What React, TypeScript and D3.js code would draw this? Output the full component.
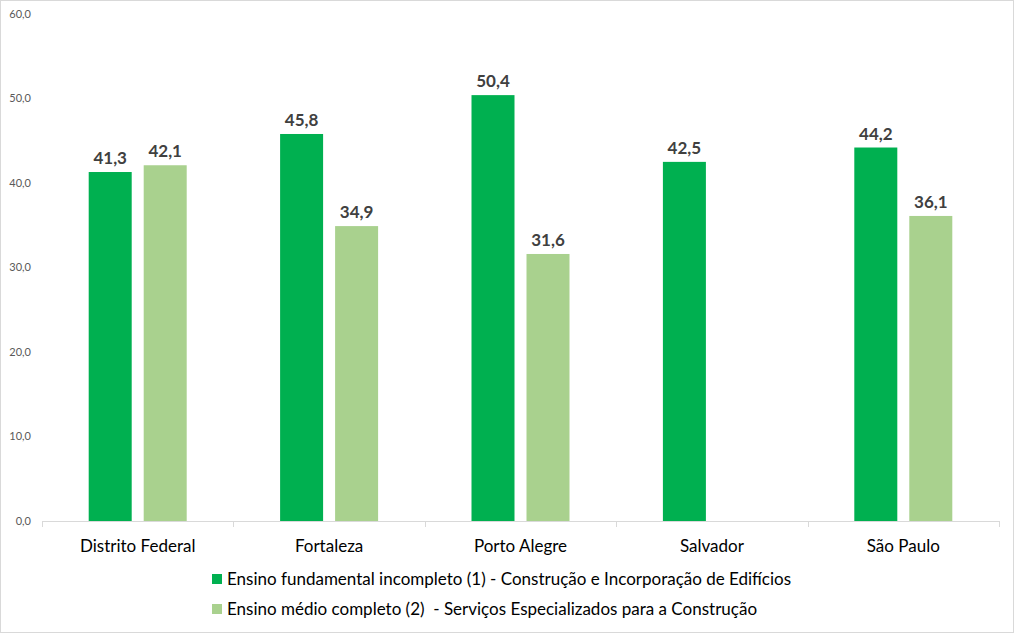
import React, { useEffect } from "react";
import * as d3 from "d3";

const categories = ["Distrito Federal", "Fortaleza", "Porto Alegre", "Salvador", "São Paulo"];
const seriesNames = [
  "Ensino fundamental incompleto (1) - Construção e Incorporação de Edifícios",
  "Ensino médio completo (2)  - Serviços Especializados para a Construção",
];
const fundamental: (number | null)[] = [41.3, 45.8, 50.4, 42.5, 44.2];
const medio: (number | null)[] = [42.1, 34.9, 31.6, null, 36.1];
const yTicks = [0, 10, 20, 30, 40, 50, 60];
const colors = ["#00B050", "#A9D18E"];

const W = 1014;
const H = 633;
const FONT = "Lato, 'Open Sans', sans-serif";

export default function App() {
  useEffect(() => {
    document.body.style.margin = "0";
  }, []);

  const x = d3.scaleBand<string>().domain(categories).range([42, 999]);
  const y = d3.scaleLinear().domain([0, 60]).range([521, 14]);
  const fmt = (v: number) => v.toFixed(1).replace(".", ",");
  const barW = 43;
  const gap = 12;
  const series = [fundamental, medio];

  return (
    <svg width={W} height={H} style={{ display: "block", fontFamily: FONT }}>
      <rect x={0.5} y={0.5} width={W - 1} height={H - 1} fill="#fff" stroke="#d9d9d9" />
      {yTicks.map((t) => (
        <text key={t} x={31} y={y(t)} dy="0.35em" textAnchor="end" fontSize={11} fill="#595959">
          {fmt(t)}
        </text>
      ))}
      <line x1={42} x2={999} y1={521.5} y2={521.5} stroke="#d9d9d9" />
      {[...categories.map((c) => x(c)!), 999].map((px, i) => (
        <line key={i} x1={Math.round(px) + 0.5} x2={Math.round(px) + 0.5} y1={521} y2={527} stroke="#d9d9d9" />
      ))}
      {categories.map((c, ci) => {
        const center = x(c)! + x.bandwidth() / 2;
        return (
          <g key={c}>
            {series.map((s, si) => {
              const v = s[ci];
              if (v == null) return null;
              const bx = center - gap / 2 - barW + si * (barW + gap);
              return (
                <g key={si}>
                  <rect x={bx} y={y(v)} width={barW} height={y(0) - y(v)} fill={colors[si]} />
                  <text
                    x={bx + barW / 2}
                    y={y(v) - 8}
                    textAnchor="middle"
                    fontSize={17}
                    fontWeight="bold"
                    fill="#404040"
                  >
                    {fmt(v)}
                  </text>
                </g>
              );
            })}
            <text x={center} y={552} textAnchor="middle" fontSize={17} fill="#000">
              {c}
            </text>
          </g>
        );
      })}
      {seriesNames.map((n, i) => (
        <g key={n}>
          <rect x={212} y={574 + i * 30} width={10} height={10} fill={colors[i]} />
          <text
            x={227}
            y={579 + i * 30}
            dy="0.35em"
            fontSize={17}
            fill="#000"
            style={{ whiteSpace: "pre" }}
          >
            {n}
          </text>
        </g>
      ))}
    </svg>
  );
}
